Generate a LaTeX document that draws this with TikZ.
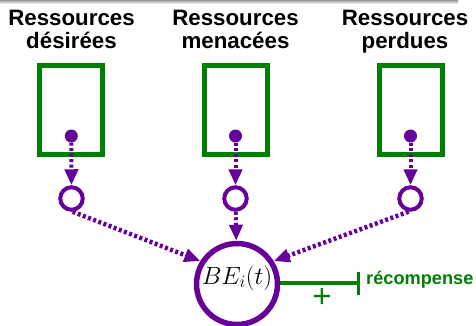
\documentclass[tikz,border=0pt]{standalone}
\usepackage{fontspec}
\setmainfont{Liberation Sans}
\usetikzlibrary{arrows.meta}
\definecolor{vio}{RGB}{102,0,153}
\definecolor{grn}{RGB}{0,128,0}
\tikzset{
  heading/.style={font=\bfseries\fontsize{22.3}{23.5}\selectfont, align=center, inner sep=0pt, anchor=base},
  stock/.style={draw=grn, line width=5pt, minimum width=63pt, minimum height=89pt, inner sep=0pt},
  tap/.style={circle, fill=vio, minimum size=13pt, inner sep=0pt},
  ring/.style={circle, draw=vio, line width=4pt, minimum size=22.5pt, inner sep=0pt},
  state/.style={circle, draw=vio, line width=5.5pt, minimum size=81pt, inner sep=0pt,
    font=\fontsize{26}{26}\selectfont, text height=12pt, text depth=12pt},
  flowdash/.style={vio, line width=4pt, dash pattern=on 3pt off 2.5pt,
    -{Triangle[length=16pt,width=13pt]}},
  flowdot/.style={vio, line width=4.5pt, dash pattern=on 3pt off 2.5pt,
    -{Triangle[length=16pt,width=13pt]}},
  reward/.style={grn, line width=4.5pt, -{Bar[width=23pt,line width=3pt]}}
}
\begin{document}
\begin{tikzpicture}[x=1pt,y=-1pt]
\useasboundingbox (0,0) rectangle (476,325);
% soft grey rule along the top edge
\shade[top color=black!40, bottom color=white] (0,0) rectangle (458,4);

% headings (anchored on the baseline of their second line)
\node[heading] (h1) at (71.5,48.5) {Ressources\\désirées};
\node[heading] (h2) at (235.5,48.5) {Ressources\\menacées};
\node[heading] (h3) at (405,48.5) {Ressources\\perdues};

% stocks
\node[stock] (s1) at (71.3,110.3) {};
\node[stock] (s2) at (235.5,110.3) {};
\node[stock] (s3) at (410.5,110.3) {};

% taps at the bottom of each stock
\node[tap] (d1) at (71.3,136) {};
\node[tap] (d2) at (235.5,136) {};
\node[tap] (d3) at (410.5,136) {};

% converters
\node[ring] (r1) at (71.5,198.5) {};
\node[ring] (r2) at (235.5,198.5) {};
\node[ring] (r3) at (410.5,198.5) {};

% well-being state
\node[state] (be) at (237,284) {$BE_i(t)$};

% flows
\draw[flowdash] (d1) -- (r1);
\draw[flowdash] (d2) -- (r2);
\draw[flowdash] (d3) -- (r3);
\draw[flowdot] (r1.-85) -- (be.148);
\draw[flowdash] (r2) -- (be);
\draw[flowdot] (r3.-98) -- (be.32);

% reward output
\coordinate (rw) at (360,283);
\draw[reward] (be.east |- rw) -- (rw);
\node[grn, font=\fontsize{33}{33}\selectfont, inner sep=0pt] (plus) at (322,297.5) {+};
\node[grn, font=\bfseries\fontsize{18.2}{20}\selectfont, anchor=base west, inner sep=0pt] (rec) at (366,284.5) {récompense};
\end{tikzpicture}
\end{document}
